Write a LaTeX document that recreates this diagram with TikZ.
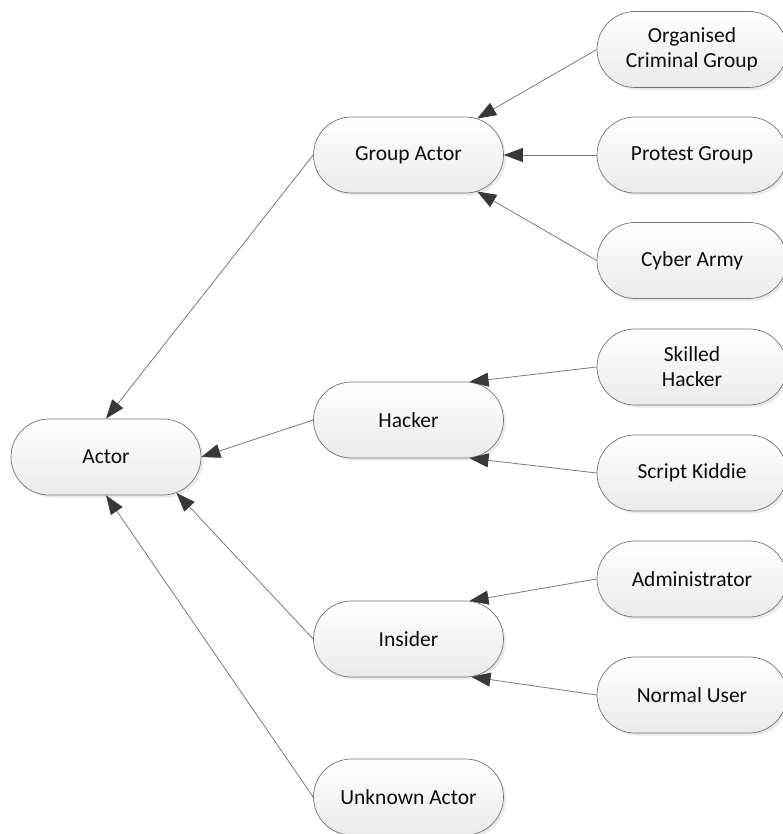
\documentclass[tikz,border=0pt]{standalone}
\usepackage{fontspec}
\setmainfont{Carlito}
\usetikzlibrary{shapes.misc,shadows,arrows.meta}
\begin{document}
\begin{tikzpicture}[x=1pt,y=-1pt,
  actor/.style={rounded rectangle, draw=black!55, line width=0.7pt,
    minimum width=190pt, minimum height=76pt, inner sep=0pt,
    top color=white, bottom color=black!8,
    drop shadow={shadow xshift=2.5pt, shadow yshift=-2.5pt, fill=black!16},
    font=\fontsize{21.5}{25}\selectfont, align=center, text=black!95},
  link/.style={draw=black!52, line width=0.8pt,
    -{Triangle[length=19pt,width=14pt,color=black!78,fill=black!78]}}]
\useasboundingbox (0,0) rectangle (782,834);

% taxonomy of actors
\node[actor] (actor) at (106,457) {Actor};

\node[actor] (grp)  at (408.5,155) {Group Actor};
\node[actor] (hack) at (408.5,420) {Hacker};
\node[actor] (ins)  at (408.5,639) {Insider};
\node[actor] (unk)  at (408.5,797) {Unknown Actor};

\node[actor] (ocg)  at (692,49.5)  {Organised\\Criminal Group};
\node[actor] (prot) at (692,155)   {Protest Group};
\node[actor] (cyb)  at (692,260.5) {Cyber Army};
\node[actor] (skl)  at (692,367)   {Skilled\\Hacker};
\node[actor] (kid)  at (692,473)   {Script Kiddie};
\node[actor] (adm)  at (692,579)   {Administrator};
\node[actor] (nu)   at (692,695)   {Normal User};

% specialisation links, pointing to the more general actor
\draw[link] (grp.west)  -- (actor.north);
\draw[link] (hack.west) -- (actor.east);
\draw[link] (ins.west)  -- (actor.-27);
\draw[link] (unk.west)  -- (actor.south);

\draw[link] (ocg.west)  -- (grp.28);
\draw[link] (prot.west) -- (grp.east);
\draw[link] (cyb.west)  -- (grp.-28);

\draw[link] (skl.west)  -- (hack.32);
\draw[link] (kid.west)  -- (hack.-32);

\draw[link] (adm.west)  -- (ins.32);
\draw[link] (nu.west)   -- (ins.-31);
\end{tikzpicture}
\end{document}
